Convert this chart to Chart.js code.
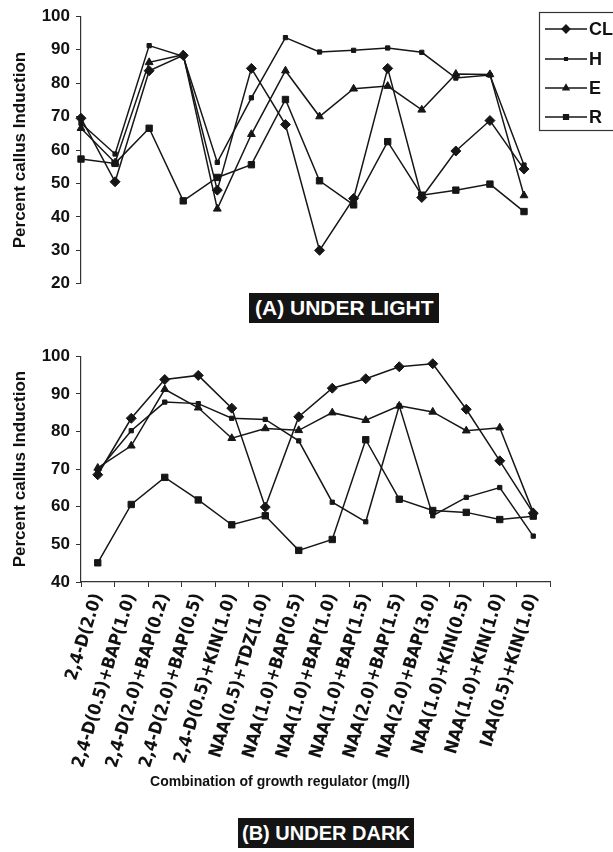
<!DOCTYPE html>
<html>
<head>
<meta charset="utf-8">
<script src="https://cdn.jsdelivr.net/npm/chart.js@4.4.1/dist/chart.umd.min.js"></script>
<style>
  html, body { margin: 0; padding: 0; background: #fff; }
  body { width: 613px; height: 852px; position: relative; overflow: hidden; font-family: "Liberation Sans", Arial, sans-serif; }
  .box { position: absolute; }
  .banner { position: absolute; background: #141414; color: #fff; font-weight: bold; font-size: 21px; line-height: 30px; height: 30px; padding: 0 6px; white-space: nowrap; }
  #xtitle { position: absolute; top: 773px; left: 120px; width: 320px; text-align: center; font-weight: bold; font-size: 14px; color: #111; white-space: nowrap; }
</style>
</head>
<body>
<div class="box" style="left:0;top:0;width:613px;height:300px"><canvas id="light"></canvas></div>
<div class="box" style="left:0;top:340px;width:613px;height:460px"><canvas id="dark"></canvas></div>
<div id="xtitle">Combination of growth regulator (mg/l)</div>
<div class="banner" style="left:249px;top:293px;">(A) UNDER LIGHT</div>
<div class="banner" style="left:238px;top:818px;font-size:20px;padding:0 4px;">(B) UNDER DARK</div>

<script>
// growth regulator combinations (x axis)
const treatments = [
  "2,4-D(2.0)", "2,4-D(0.5)+BAP(1.0)", "2,4-D(2.0)+BAP(0.2)", "2,4-D(2.0)+BAP(0.5)",
  "2,4-D(0.5)+KIN(1.0)", "NAA(0.5)+TDZ(1.0)", "NAA(1.0)+BAP(0.5)", "NAA(1.0)+BAP(1.0)",
  "NAA(1.0)+BAP(1.5)", "NAA(2.0)+BAP(1.5)", "NAA(2.0)+BAP(3.0)", "NAA(1.0)+KIN(0.5)",
  "NAA(1.0)+KIN(1.0)", "IAA(0.5)+KIN(1.0)"
];

// (A) under light, percent callus induction
const lightCL = [69.5, 50.5, 83.7, 88.3, 48, 84.4, 67.6, 30, 45.5, 84.4, 45.8, 59.7, 68.8, 54.3];
const lightH  = [68, 58.8, 91.2, 88, 56.3, 75.6, 93.6, 89.3, 89.8, 90.5, 89.2, 81.5, 82.4, 55.5];
const lightE  = [66.5, 56.2, 86.2, 88.5, 42.4, 64.7, 83.7, 70, 78.3, 79.1, 72, 82.7, 82.6, 46.4];
const lightR  = [57.3, 56, 66.5, 44.8, 51.8, 55.6, 75.1, 50.8, 43.6, 62.5, 46.5, 48, 49.8, 41.6];

// (B) under dark
const darkCL = [68.5, 83.5, 93.8, 94.9, 86.2, 59.9, 83.9, 91.5, 94, 97.2, 98, 85.9, 72.2, 58.3];
const darkH  = [69.5, 80.2, 87.8, 87.4, 83.5, 83.2, 77.5, 61.2, 56, 86.8, 57.6, 62.5, 65.1, 52.2];
const darkE  = [70.3, 76.2, 91.2, 86.3, 78.2, 80.8, 80.3, 85, 83, 86.8, 85.2, 80.2, 81, 58.5];
const darkR  = [45.1, 60.6, 67.8, 61.8, 55.2, 57.6, 48.4, 51.3, 77.8, 62, 59, 58.5, 56.6, 57.5];

const seriesNames = ["CL", "H", "E", "R"];

const INK = "#161616";
const FONT = "'Liberation Sans', Arial, sans-serif";
const NARROW = "'Liberation Sans Narrow', 'Arial Narrow', 'DejaVu Sans Condensed', sans-serif";

const markers = {
  CL: { pointStyle: "rectRot", pointRadius: 5 },
  H:  { pointStyle: "rect", pointRadius: 3 },
  E:  { pointStyle: "triangle", pointRadius: 4.5 },
  R:  { pointStyle: "rect", pointRadius: 4.5 }
};

function makeDatasets(values) {
  return values.map((vals, i) => {
    const name = seriesNames[i];
    return {
      label: name,
      data: vals,
      borderColor: INK,
      borderWidth: 1.5,
      backgroundColor: INK,
      pointBackgroundColor: INK,
      pointBorderColor: INK,
      pointBorderWidth: 1,
      pointStyle: markers[name].pointStyle,
      pointRadius: markers[name].pointRadius,
      tension: 0,
      fill: false,
      clip: false
    };
  });
}

// boxed legend on the right of the light chart
const boxLegend = {
  id: "boxLegend",
  afterDraw(chart) {
    const ctx = chart.ctx;
    ctx.save();
    ctx.strokeStyle = "#333";
    ctx.lineWidth = 1.2;
    ctx.strokeRect(539.5, 12.5, 100, 118);
    const rows = [29, 59, 88, 117];
    chart.data.datasets.forEach((ds, i) => {
      const y = rows[i];
      ctx.strokeStyle = INK;
      ctx.lineWidth = 1.3;
      ctx.beginPath();
      ctx.moveTo(545, y);
      ctx.lineTo(587, y);
      ctx.stroke();
      ctx.fillStyle = INK;
      if (Chart.helpers && Chart.helpers.drawPoint) {
        Chart.helpers.drawPoint(ctx, {
          pointStyle: ds.pointStyle, radius: ds.pointRadius - 1, rotation: 0, borderWidth: 1
        }, 566, y);
      } else {
        ctx.fillRect(563, y - 3, 6, 6);
      }
      ctx.fillStyle = "#111";
      ctx.font = "bold 18px " + FONT;
      ctx.textBaseline = "middle";
      ctx.fillText(ds.label, 589, y + 1);
    });
    ctx.restore();
  }
};

function yScale(min, max) {
  return {
    min: min,
    max: max,
    ticks: { stepSize: 10, color: "#111", padding: 6, font: { family: FONT, size: 17, weight: "bold" } },
    grid: { drawOnChartArea: false, tickLength: 5, color: "#333", lineWidth: 1 },
    border: { color: "#333", width: 1.2 },
    title: {
      display: true,
      text: "Percent callus Induction",
      color: "#111",
      padding: { top: 10, bottom: 0 },
      font: { family: FONT, size: 17, weight: "bold" }
    },
    afterFit(scale) { scale.width = 81; }
  };
}

Chart.defaults.animation = false;

new Chart(document.getElementById("light"), {
  type: "line",
  data: {
    labels: treatments,
    datasets: makeDatasets([lightCL, lightH, lightE, lightR])
  },
  options: {
    responsive: true,
    maintainAspectRatio: false,
    layout: { padding: { top: 16, right: 89, bottom: 10, left: 0 } },
    plugins: { legend: { display: false }, tooltip: { enabled: false } },
    scales: {
      x: { display: false, offset: false },
      y: yScale(20, 100)
    }
  },
  plugins: [boxLegend]
});

new Chart(document.getElementById("dark"), {
  type: "line",
  data: {
    labels: treatments,
    datasets: makeDatasets([darkCL, darkH, darkE, darkR])
  },
  options: {
    responsive: true,
    maintainAspectRatio: false,
    layout: { padding: { top: 15, right: 63, bottom: 0, left: 0 } },
    plugins: { legend: { display: false }, tooltip: { enabled: false } },
    scales: {
      x: {
        offset: true,
        ticks: {
          autoSkip: false, maxRotation: 73, minRotation: 73, padding: 4,
          color: "#111", font: { family: NARROW, size: 17.5, weight: "bold" }
        },
        grid: { offset: true, drawOnChartArea: false, tickLength: 5, color: "#333" },
        border: { color: "#333", width: 1.2 },
        afterFit(scale) { scale.height = 218; }
      },
      y: yScale(40, 100)
    }
  }
});
</script>
</body>
</html>
